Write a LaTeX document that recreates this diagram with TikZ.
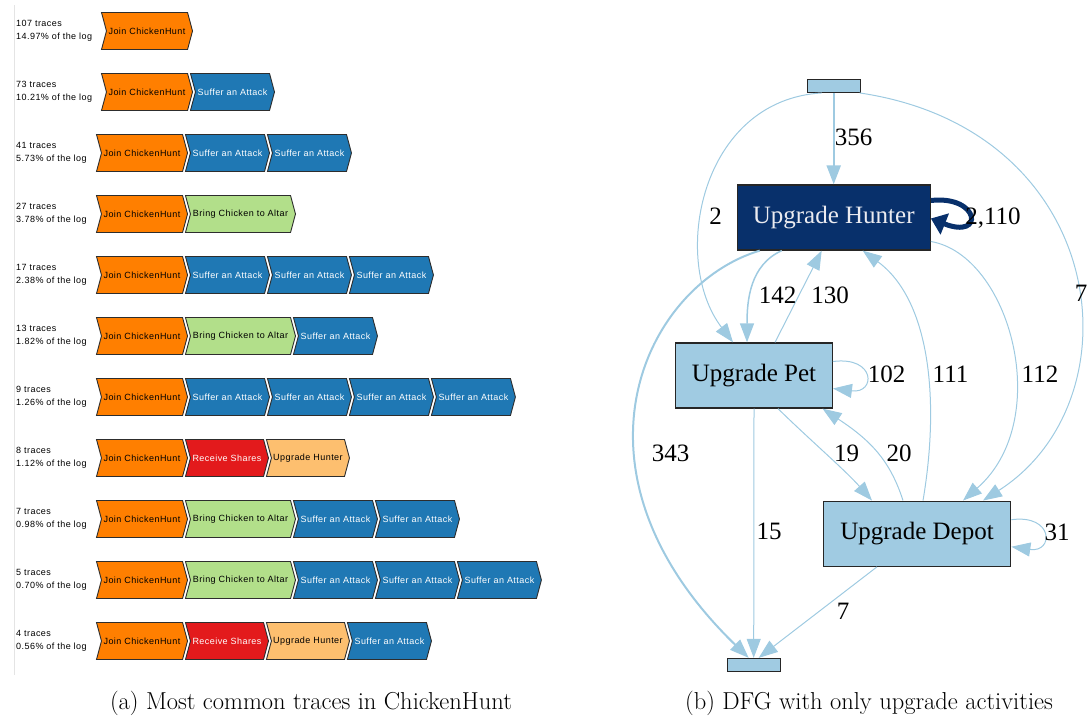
\documentclass[tikz,border=0pt]{standalone}
\usepackage{fontspec}
\usepackage{xcolor}
\usepackage{tikz}
\usetikzlibrary{shapes.symbols,arrows.meta,positioning}
\newfontfamily\tracefont[LetterSpace=5]{Liberation Sans}
\newfontfamily\dfgfont{Liberation Serif}
\definecolor{joinorange}{RGB}{255, 127, 0}
\definecolor{sufferblue}{RGB}{31, 120, 180}
\definecolor{bringgreen}{RGB}{178, 223, 138}
\definecolor{receivered}{RGB}{227, 26, 28}
\definecolor{upgradeorange}{RGB}{253, 191, 111}
\definecolor{chevborder}{RGB}{45, 45, 45}
\definecolor{hunternavy}{RGB}{8, 48, 107}
\definecolor{hunterlabel}{RGB}{235, 235, 240}
\definecolor{nodeblue}{RGB}{160, 203, 226}
\definecolor{edgeblue}{RGB}{158, 202, 225}
\definecolor{axisgray}{RGB}{228, 228, 228}

\tikzset{
  chev/.style={signal, signal to=east, signal from=west, signal pointer angle=150,
    draw=chevborder, line width=0.9pt, minimum height=37pt, inner sep=0pt,
    font=\tracefont\fontsize{9}{9}\selectfont},
  joinchev/.style={chev, fill=joinorange, minimum width=91pt, node contents={Join ChickenHunt}},
  sufferchev/.style={chev, fill=sufferblue, text=white, minimum width=84pt, node contents={Suffer an Attack}},
  bringchev/.style={chev, fill=bringgreen, minimum width=110pt, node contents={Bring Chicken to Altar}},
  receivechev/.style={chev, fill=receivered, text=white, minimum width=83pt, node contents={Receive Shares}},
  upgradechev/.style={chev, fill=upgradeorange, minimum width=83pt, node contents={Upgrade Hunter}},
  rowlabel/.style={anchor=west, align=left, inner sep=0pt, font=\tracefont\fontsize{9}{13}\selectfont},
  activity/.style={draw=black!85, line width=1.3pt, fill=nodeblue, minimum height=65pt,
    inner sep=0pt, font=\dfgfont\fontsize{25}{25}\selectfont},
  terminal/.style={draw=black!85, line width=1.3pt, fill=nodeblue, minimum width=53pt,
    minimum height=13pt, inner sep=0pt},
  flow/.style={draw=edgeblue, line width=1pt, -{Triangle[length=19pt,width=14pt]}},
  flowlabel/.style={inner sep=0pt, font=\dfgfont\fontsize{25}{25}\selectfont},
  caption/.style={inner sep=0pt, font=\fontsize{24.5}{24.5}\selectfont}
}

\begin{document}
\begin{tikzpicture}[x=1pt,y=-1pt]
\useasboundingbox (0,0) rectangle (1089,719);

% (a) trace variants
\draw[axisgray, line width=0.8pt] (14,5) -- (14,675);
\foreach \row/\cnt/\pct/\acts in {
    1/107/14.97/{joinchev},
    2/73/10.21/{joinchev,sufferchev},
    3/41/5.73/{joinchev,sufferchev,sufferchev},
    4/27/3.78/{joinchev,bringchev},
    5/17/2.38/{joinchev,sufferchev,sufferchev,sufferchev},
    6/13/1.82/{joinchev,bringchev,sufferchev},
    7/9/1.26/{joinchev,sufferchev,sufferchev,sufferchev,sufferchev},
    8/8/1.12/{joinchev,receivechev,upgradechev},
    9/7/0.98/{joinchev,bringchev,sufferchev,sufferchev},
    10/5/0.70/{joinchev,bringchev,sufferchev,sufferchev,sufferchev},
    11/4/0.56/{joinchev,receivechev,upgradechev,sufferchev}}{
  \pgfmathsetmacro{\rowy}{31+61*(\row-1)}
  \ifnum\row<3 \def\chevx{106}\else \def\chevx{101}\fi
  \node[rowlabel] (lab\row) at (16,\rowy) {\cnt\ traces\\\pct\% of the log};
  \foreach \act [count=\k, remember=\k as \prevk (initially 0)] in \acts {
    \ifnum\k=1
      \node[\act, anchor=west, at={(\chevx,\rowy)}, name=c\row-\k];
    \else
      \node[\act, right=2pt of c\row-\prevk, name=c\row-\k];
    \fi
  }
}
\node[caption] (capa) at (311,703) {(a) Most common traces in ChickenHunt};

% (b) directly-follows graph
\node[terminal] (start) at (833.7,85.8) {};
\node[activity, fill=hunternavy, text=hunterlabel, minimum width=193pt] (hunter) at (833.7,217.5) {Upgrade Hunter};
\node[activity, minimum width=156.6pt] (pet) at (754,375.5) {Upgrade Pet};
\node[activity, minimum width=187.4pt] (depot) at (917,533.7) {Upgrade Depot};
\node[terminal] (end) at (753.7,665) {};

\draw[flow, line width=2.2pt] (start) -- (hunter);
\draw[flow] ([xshift=-12pt]start.south) .. controls (700,100) and (670,260) .. ([xshift=-21pt]pet.north);
\draw[flow] ([xshift=26pt]start.south) .. controls (1110,130) and (1140,400) .. ([xshift=66pt]depot.north);
\draw[hunternavy, line width=5pt, -{Triangle[length=15pt,width=22pt]}] ([yshift=17pt]hunter.east) .. controls (980,195) and (985,240) .. ([yshift=-1pt]hunter.east);
\draw[flow, line width=1.5pt] ([xshift=-52pt]hunter.south) .. controls (750,265) and (747,300) .. ([xshift=-7pt]pet.north);
\draw[flow] ([xshift=21pt]pet.north) -- ([xshift=-12pt]hunter.south);
\draw[flow, line width=2pt] ([xshift=-74pt]hunter.south) .. controls (645,285) and (555,470) .. ([xshift=-5pt]end.north);
\draw[flow] ([xshift=6pt]depot.north) .. controls (940,400) and (930,300) .. ([xshift=29pt]hunter.south);
\draw[flow] ([yshift=-24pt]hunter.east) .. controls (1010,255) and (1055,420) .. ([xshift=46pt]depot.north);
\draw[flow] ([yshift=14pt]pet.east) .. controls (876,356) and (876,394) .. ([yshift=-13pt]pet.east);
\draw[flow] ([xshift=24pt]pet.south) .. controls (810,440) and (845,470) .. ([xshift=-45pt]depot.north);
\draw[flow] ([xshift=-14pt]depot.north) .. controls (890,460) and (870,440) .. ([xshift=68.5pt]pet.south);
\draw[flow] (pet.south) -- (end.north);
\draw[flow] ([yshift=14pt]depot.east) .. controls (1054,514) and (1054,553) .. ([yshift=-13pt]depot.east);
\draw[flow] ([xshift=-40pt]depot.south) -- ([xshift=5pt]end.north);

\node[flowlabel] (n356) at (853.7,137) {356};
\node[flowlabel] (n2) at (715.5,216) {2};
\node[flowlabel] (n7a) at (1081,293) {7};
\node[flowlabel] (n2110) at (993,218) {2,110};
\node[flowlabel] (n142) at (777.5,295) {142};
\node[flowlabel] (n130) at (830,295) {130};
\node[flowlabel] (n343) at (670.5,453) {343};
\node[flowlabel] (n111) at (950.5,374) {111};
\node[flowlabel] (n112) at (1040,374) {112};
\node[flowlabel] (n102) at (886.5,374) {102};
\node[flowlabel] (n19) at (846.7,453) {19};
\node[flowlabel] (n20) at (899,453) {20};
\node[flowlabel] (n15) at (769,531.7) {15};
\node[flowlabel] (n31) at (1057,532) {31};
\node[flowlabel] (n7b) at (843,611) {7};
\node[caption] (capb) at (869,703) {(b) DFG with only upgrade activities};
\end{tikzpicture}
\end{document}
